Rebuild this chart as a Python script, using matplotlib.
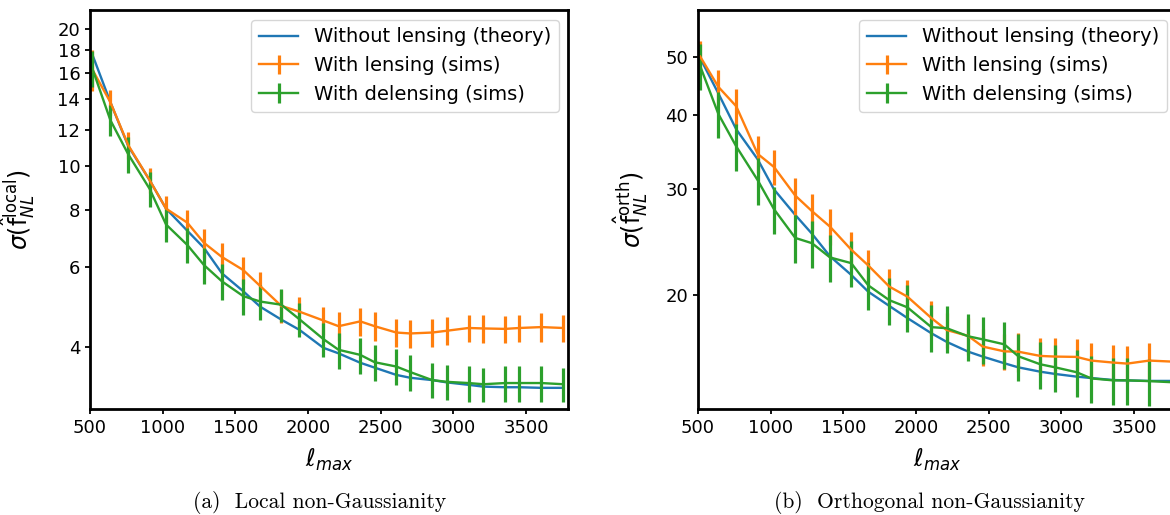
import matplotlib
matplotlib.use("Agg")
import matplotlib.pyplot as plt

# ---------------- data ----------------
ell = [515, 640, 763, 910, 1023, 1169, 1284, 1408, 1554, 1671, 1816, 1940, 2105,
       2210, 2359, 2458, 2607, 2703, 2854, 2957, 3104, 3205, 3356, 3453, 3604, 3755]

local_theory = [17.6, 13.8, 11.05, 9.3, 8.05, 7.2, 6.6, 5.8, 5.3, 4.9, 4.59, 4.36, 3.98,
                3.87, 3.69, 3.6, 3.47, 3.42, 3.38, 3.34, 3.3, 3.27, 3.26, 3.26, 3.25, 3.25]
local_lens = [16.3, 13.8, 11.1, 9.3, 8.05, 7.5, 6.77, 6.3, 5.9, 5.44, 4.92, 4.78, 4.57,
              4.44, 4.55, 4.44, 4.3, 4.28, 4.3, 4.34, 4.4, 4.39, 4.38, 4.4, 4.42, 4.4]
local_lens_err = [1.7, 0.9, 0.75, 0.6, 0.55, 0.5, 0.5, 0.45, 0.4, 0.4, 0.4, 0.36, 0.33,
                  0.32, 0.33, 0.32, 0.31, 0.3, 0.3, 0.31, 0.31, 0.31, 0.3, 0.31, 0.32, 0.31]
local_delens = [16.4, 12.6, 10.6, 8.9, 7.43, 6.7, 6.05, 5.57, 5.17, 5.03, 4.95, 4.6, 4.16,
                3.94, 3.84, 3.7, 3.62, 3.52, 3.38, 3.35, 3.33, 3.31, 3.33, 3.33, 3.33, 3.31]
local_delens_err = [1.5, 1.0, 0.95, 0.8, 0.63, 0.6, 0.55, 0.51, 0.47, 0.44, 0.42, 0.4, 0.36,
                    0.36, 0.35, 0.33, 0.33, 0.32, 0.3, 0.3, 0.3, 0.29, 0.3, 0.3, 0.3, 0.29]

orth_theory = [49.7, 43.4, 37.8, 33.7, 30.0, 27.2, 25.3, 23.2, 21.6, 20.25, 19.17, 18.3, 17.26,
               16.7, 16.08, 15.78, 15.38, 15.14, 14.89, 14.76, 14.61, 14.53, 14.42, 14.4, 14.37, 14.37]
orth_lens = [50.0, 44.5, 41.3, 34.4, 32.7, 29.3, 27.6, 26.0, 23.8, 22.4, 20.65, 19.87, 18.3,
             17.48, 17.08, 16.4, 16.1, 16.08, 15.82, 15.78, 15.76, 15.54, 15.42, 15.36, 15.54, 15.48]
orth_lens_err = [3.1, 3.0, 2.9, 2.5, 2.2, 2.1, 1.9, 1.8, 1.7, 1.4, 1.45, 1.3, 1.24,
                 1.2, 1.2, 1.16, 1.1, 1.2, 1.1, 1.15, 1.12, 1.07, 1.08, 1.08, 1.09, 1.08]
orth_delens = [48.2, 40.1, 35.4, 31.1, 27.8, 24.9, 24.4, 23.1, 22.6, 20.75, 19.6, 19.07, 17.67,
               17.6, 17.06, 16.86, 16.54, 15.8, 15.32, 15.14, 14.86, 14.51, 14.4, 14.4, 14.36, 14.3]
orth_delens_err = [4.3, 3.6, 3.2, 2.8, 2.5, 2.3, 2.2, 2.1, 2.0, 1.85, 1.78, 1.72, 1.58,
                   1.58, 1.53, 1.52, 1.49, 1.42, 1.37, 1.37, 1.33, 1.31, 1.3, 1.3, 1.29, 1.29]

local_yticks = [4, 6, 8, 10, 12, 14, 16, 18, 20]
orth_yticks = [20, 30, 40, 50]
xticks = [500, 1000, 1500, 2000, 2500, 3000, 3500]

legend_labels = ["Without lensing (theory)", "With lensing (sims)", "With delensing (sims)"]
captions = ["(a)  Local non-Gaussianity", "(b)  Orthogonal non-Gaussianity"]

# ---------------- figure ----------------
W, H = 1170, 515
fig = plt.figure(figsize=(W / 100, H / 100), dpi=100)

def px_axes(left, top, right, bottom):
    return fig.add_axes([left / W, 1 - bottom / H, (right - left) / W, (bottom - top) / H])

ax1 = px_axes(90, 10, 568.3, 409)
ax2 = px_axes(698, 10, 1176.3, 409)

panels = [
    (ax1, local_theory, local_lens, local_lens_err, local_delens, local_delens_err,
     (2.92, 22.0), local_yticks, r"$\sigma(\hat{\mathrm{f}}_{NL}^{\mathrm{local}})$"),
    (ax2, orth_theory, orth_lens, orth_lens_err, orth_delens, orth_delens_err,
     (12.9, 59.8), orth_yticks, r"$\sigma(\hat{\mathrm{f}}_{NL}^{\mathrm{orth}})$"),
]

for ax, th, le, lee, de, dee, ylim, yt, ylab in panels:
    h0, = ax.plot(ell, th, color="C0", lw=1.7)
    h1 = ax.errorbar(ell, le, yerr=lee, color="C1", lw=1.7, elinewidth=2.3, capsize=0)
    h2 = ax.errorbar(ell, de, yerr=dee, color="C2", lw=1.7, elinewidth=2.3, capsize=0)
    ax.set_yscale("log")
    ax.set_xlim(500, 3790)
    ax.set_ylim(*ylim)
    ax.set_yticks(yt)
    ax.set_yticklabels([str(t) for t in yt])
    ax.set_yticks([], minor=True)
    ax.set_xticks(xticks)
    ax.tick_params(labelsize=13, width=1.3)
    for s in ax.spines.values():
        s.set_linewidth(2.0)
    ax.set_xlabel(r"$\ell_{max}$", fontsize=17)
    ax.set_ylabel(ylab, fontsize=17)
    ax.xaxis.set_label_coords(0.5, -0.095)
    ax.legend([h0, h1, h2], legend_labels, loc="upper right", fontsize=14,
              borderaxespad=0.5, handlelength=2.0)

ax1.yaxis.set_label_coords(-0.111, 0.5)
ax2.yaxis.set_label_coords(-0.100, 0.5)

fig.text(320 / W, 1 - 502 / H, captions[0], family="cmr10", fontsize=15.5,
         ha="center", va="center")
fig.text(929 / W, 1 - 502 / H, captions[1], family="cmr10", fontsize=15.5,
         ha="center", va="center")

fig.savefig("out.png", dpi=100)
